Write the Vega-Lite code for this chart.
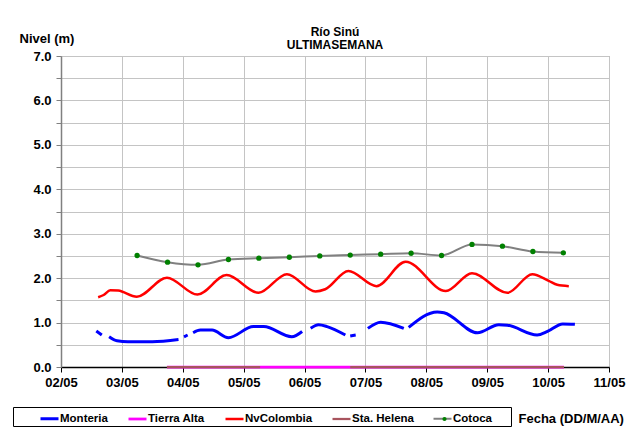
{
  "$schema": "https://vega.github.io/schema/vega-lite/v6.json",
  "width": 548,
  "height": 311,
  "autosize": "none",
  "padding": {"left": 61, "top": 56, "right": 18, "bottom": 66},
  "background": "white",
  "config": {
    "font": "Liberation Sans",
    "view": {"stroke": "#999999"},
    "mark": {"invalid": "break-paths-filter-domains"}
  },
  "title": {
    "text": ["Río Sinú", "ULTIMASEMANA"],
    "anchor": "middle",
    "frame": "group",
    "fontSize": 12,
    "fontWeight": "bold",
    "lineHeight": 13,
    "offset": -20,
    "color": "black",
    "font": "Liberation Sans"
  },
  "data": {
    "values": [
      {"serie": "Tierra Alta", "dia": 3.74, "nivel": 0},
      {"serie": "Tierra Alta", "dia": 10.26, "nivel": 0},
      {"serie": "Sta. Helena", "dia": 3.74, "nivel": 0},
      {"serie": "Sta. Helena", "dia": 5.27, "nivel": 0},
      {"serie": "Sta. Helena", "dia": 5.3, "nivel": null},
      {"serie": "Sta. Helena", "dia": 6.72, "nivel": null},
      {"serie": "Sta. Helena", "dia": 6.75, "nivel": 0},
      {"serie": "Sta. Helena", "dia": 10.26, "nivel": 0},
      {"serie": "Monteria", "dia": 2.58, "nivel": 0.81},
      {"serie": "Monteria", "dia": 2.67, "nivel": 0.72},
      {"serie": "Monteria", "dia": 2.72, "nivel": null},
      {"serie": "Monteria", "dia": 2.79, "nivel": 0.68},
      {"serie": "Monteria", "dia": 2.92, "nivel": 0.59},
      {"serie": "Monteria", "dia": 3.1, "nivel": 0.57},
      {"serie": "Monteria", "dia": 3.5, "nivel": 0.57},
      {"serie": "Monteria", "dia": 3.93, "nivel": 0.62},
      {"serie": "Monteria", "dia": 3.97, "nivel": null},
      {"serie": "Monteria", "dia": 4.02, "nivel": 0.68},
      {"serie": "Monteria", "dia": 4.08, "nivel": 0.72},
      {"serie": "Monteria", "dia": 4.12, "nivel": null},
      {"serie": "Monteria", "dia": 4.17, "nivel": 0.77},
      {"serie": "Monteria", "dia": 4.29, "nivel": 0.83},
      {"serie": "Monteria", "dia": 4.48, "nivel": 0.83},
      {"serie": "Monteria", "dia": 4.75, "nivel": 0.66},
      {"serie": "Monteria", "dia": 5.16, "nivel": 0.91},
      {"serie": "Monteria", "dia": 5.33, "nivel": 0.91},
      {"serie": "Monteria", "dia": 5.79, "nivel": 0.68},
      {"serie": "Monteria", "dia": 5.96, "nivel": 0.8},
      {"serie": "Monteria", "dia": 6.03, "nivel": null},
      {"serie": "Monteria", "dia": 6.1, "nivel": 0.87},
      {"serie": "Monteria", "dia": 6.23, "nivel": 0.95},
      {"serie": "Monteria", "dia": 6.37, "nivel": 0.91},
      {"serie": "Monteria", "dia": 6.67, "nivel": 0.72},
      {"serie": "Monteria", "dia": 6.71, "nivel": null},
      {"serie": "Monteria", "dia": 6.75, "nivel": 0.7},
      {"serie": "Monteria", "dia": 6.84, "nivel": 0.72},
      {"serie": "Monteria", "dia": 6.95, "nivel": null},
      {"serie": "Monteria", "dia": 7.04, "nivel": 0.87},
      {"serie": "Monteria", "dia": 7.25, "nivel": 1.01},
      {"serie": "Monteria", "dia": 7.63, "nivel": 0.87},
      {"serie": "Monteria", "dia": 7.67, "nivel": null},
      {"serie": "Monteria", "dia": 7.71, "nivel": 0.89},
      {"serie": "Monteria", "dia": 8.18, "nivel": 1.24},
      {"serie": "Monteria", "dia": 8.29, "nivel": 1.22},
      {"serie": "Monteria", "dia": 8.84, "nivel": 0.77},
      {"serie": "Monteria", "dia": 9.19, "nivel": 0.95},
      {"serie": "Monteria", "dia": 9.33, "nivel": 0.94},
      {"serie": "Monteria", "dia": 9.82, "nivel": 0.72},
      {"serie": "Monteria", "dia": 9.99, "nivel": 0.8},
      {"serie": "Monteria", "dia": 10.24, "nivel": 0.97},
      {"serie": "Monteria", "dia": 10.44, "nivel": 0.96},
      {"serie": "NvColombia", "dia": 2.61, "nivel": 1.57},
      {"serie": "NvColombia", "dia": 2.7, "nivel": 1.62},
      {"serie": "NvColombia", "dia": 2.81, "nivel": 1.73},
      {"serie": "NvColombia", "dia": 2.94, "nivel": 1.72},
      {"serie": "NvColombia", "dia": 3.245, "nivel": 1.58},
      {"serie": "NvColombia", "dia": 3.74, "nivel": 2.01},
      {"serie": "NvColombia", "dia": 4.24, "nivel": 1.63},
      {"serie": "NvColombia", "dia": 4.72, "nivel": 2.07},
      {"serie": "NvColombia", "dia": 5.245, "nivel": 1.67},
      {"serie": "NvColombia", "dia": 5.71, "nivel": 2.09},
      {"serie": "NvColombia", "dia": 6.18, "nivel": 1.7},
      {"serie": "NvColombia", "dia": 6.34, "nivel": 1.75},
      {"serie": "NvColombia", "dia": 6.72, "nivel": 2.16},
      {"serie": "NvColombia", "dia": 7.18, "nivel": 1.82},
      {"serie": "NvColombia", "dia": 7.66, "nivel": 2.37},
      {"serie": "NvColombia", "dia": 8.32, "nivel": 1.71},
      {"serie": "NvColombia", "dia": 8.75, "nivel": 2.11},
      {"serie": "NvColombia", "dia": 9.33, "nivel": 1.67},
      {"serie": "NvColombia", "dia": 9.74, "nivel": 2.09},
      {"serie": "NvColombia", "dia": 10.01, "nivel": 1.94},
      {"serie": "NvColombia", "dia": 10.15, "nivel": 1.85},
      {"serie": "NvColombia", "dia": 10.34, "nivel": 1.82},
      {"serie": "Cotoca", "dia": 3.25, "nivel": 2.51},
      {"serie": "Cotoca", "dia": 3.75, "nivel": 2.36},
      {"serie": "Cotoca", "dia": 4.25, "nivel": 2.3},
      {"serie": "Cotoca", "dia": 4.75, "nivel": 2.42},
      {"serie": "Cotoca", "dia": 5.25, "nivel": 2.45},
      {"serie": "Cotoca", "dia": 5.75, "nivel": 2.47},
      {"serie": "Cotoca", "dia": 6.25, "nivel": 2.5},
      {"serie": "Cotoca", "dia": 6.75, "nivel": 2.52},
      {"serie": "Cotoca", "dia": 7.25, "nivel": 2.54},
      {"serie": "Cotoca", "dia": 7.75, "nivel": 2.56},
      {"serie": "Cotoca", "dia": 8.25, "nivel": 2.51},
      {"serie": "Cotoca", "dia": 8.75, "nivel": 2.76},
      {"serie": "Cotoca", "dia": 9.25, "nivel": 2.72},
      {"serie": "Cotoca", "dia": 9.75, "nivel": 2.6},
      {"serie": "Cotoca", "dia": 10.25, "nivel": 2.57}
    ]
  },
  "encoding": {
    "x": {
      "field": "dia",
      "type": "quantitative",
      "scale": {"domain": [2, 11], "nice": false, "zero": false},
      "axis": {
        "values": [2, 3, 4, 5, 6, 7, 8, 9, 10, 11],
        "labelExpr": "(datum.value < 10 ? '0' : '') + datum.value + '/05'",
        "labelFontSize": 13,
        "labelFontWeight": "bold",
        "labelColor": "black",
        "labelPadding": 4,
        "labelFlush": false,
        "labelOverlap": false,
        "domainColor": "black",
        "domainWidth": 1.5,
        "tickColor": "black",
        "tickSize": 5,
        "gridColor": "#c4c4c4",
        "gridWidth": 1,
        "title": "Fecha (DD/M/AA)",
        "titleX": 457,
        "titleY": 51,
        "titleAlign": "left",
        "titleBaseline": "middle",
        "titleAnchor": null,
        "titleFontSize": 13,
        "titleFontWeight": "bold",
        "titleColor": "black"
      }
    },
    "y": {
      "field": "nivel",
      "type": "quantitative",
      "scale": {"domain": [0, 7], "nice": false},
      "axis": {
        "values": [0, 0.5, 1, 1.5, 2, 2.5, 3, 3.5, 4, 4.5, 5, 5.5, 6, 6.5, 7],
        "labelExpr": "datum.value % 1 === 0 ? format(datum.value, '.1f') : ''",
        "labelFontSize": 13,
        "labelFontWeight": "bold",
        "labelColor": "black",
        "labelPadding": 5,
        "domainColor": "#808080",
        "domainWidth": 1.5,
        "tickColor": "#808080",
        "tickSize": 5,
        "gridColor": "#c4c4c4",
        "gridWidth": 1,
        "encode": {"ticks": {"update": {"opacity": {"signal": "datum.value % 1 === 0 ? 1 : 0"}}}},
        "title": "Nivel (m)",
        "titleAngle": 0,
        "titleX": -42,
        "titleY": -18,
        "titleAlign": "left",
        "titleBaseline": "middle",
        "titleAnchor": null,
        "titleFontSize": 13,
        "titleFontWeight": "bold",
        "titleColor": "black"
      }
    }
  },
  "layer": [
    {
      "mark": {"type": "line", "interpolate": "monotone"},
      "encoding": {
        "color": {
          "field": "serie",
          "type": "nominal",
          "scale": {
            "domain": ["Monteria", "Tierra Alta", "NvColombia", "Sta. Helena", "Cotoca"],
            "range": ["#0000ff", "#ff00ff", "#ff0000", "#a8545e", "#808080"]
          },
          "legend": {
            "orient": "none",
            "legendX": -48,
            "legendY": 351,
            "direction": "horizontal",
            "columns": 5,
            "title": "\u00a0",
            "titleOrient": "left",
            "titlePadding": 25,
            "titleFontSize": 11,
            "strokeColor": "black",
            "padding": 1,
            "labelFont": "Liberation Sans",
            "labelFontSize": 11.5,
            "labelFontWeight": "bold",
            "labelColor": "black",
            "labelOffset": 0,
            "labelExpr": "datum.label === 'Cotoca' ? 'Cotoca\u2800\u2800' : datum.label",
            "columnPadding": 15,
            "symbolSize": 324,
            "symbolType": "stroke",
            "encode": {
              "symbols": {
                "update": {
                  "strokeWidth": {"signal": "datum.value === 'Monteria' || datum.value === 'NvColombia' ? 3 : (datum.value === 'Cotoca' ? 2.5 : 1.2)"}
                }
              }
            }
          }
        },
        "strokeWidth": {
          "field": "serie",
          "type": "nominal",
          "scale": {
            "domain": ["Monteria", "Tierra Alta", "NvColombia", "Sta. Helena", "Cotoca"],
            "range": [3, 2, 3, 2, 2.5]
          },
          "legend": null
        }
      }
    },
    {
      "transform": [{"filter": "datum.serie === 'Cotoca'"}],
      "mark": {"type": "point", "filled": true, "size": 28, "opacity": 1, "strokeWidth": 0},
      "encoding": {
        "fill": {
          "field": "serie",
          "type": "nominal",
          "scale": {"domain": ["Cotoca"], "range": ["#008000"]},
          "legend": {
            "orient": "none",
            "legendX": 378.5,
            "legendY": 358,
            "title": null,
            "padding": 0,
            "symbolType": "circle",
            "symbolSize": 18,
            "symbolStrokeWidth": 0,
            "labelExpr": "''",
            "labelOffset": 0
          }
        }
      }
    }
  ]
}
